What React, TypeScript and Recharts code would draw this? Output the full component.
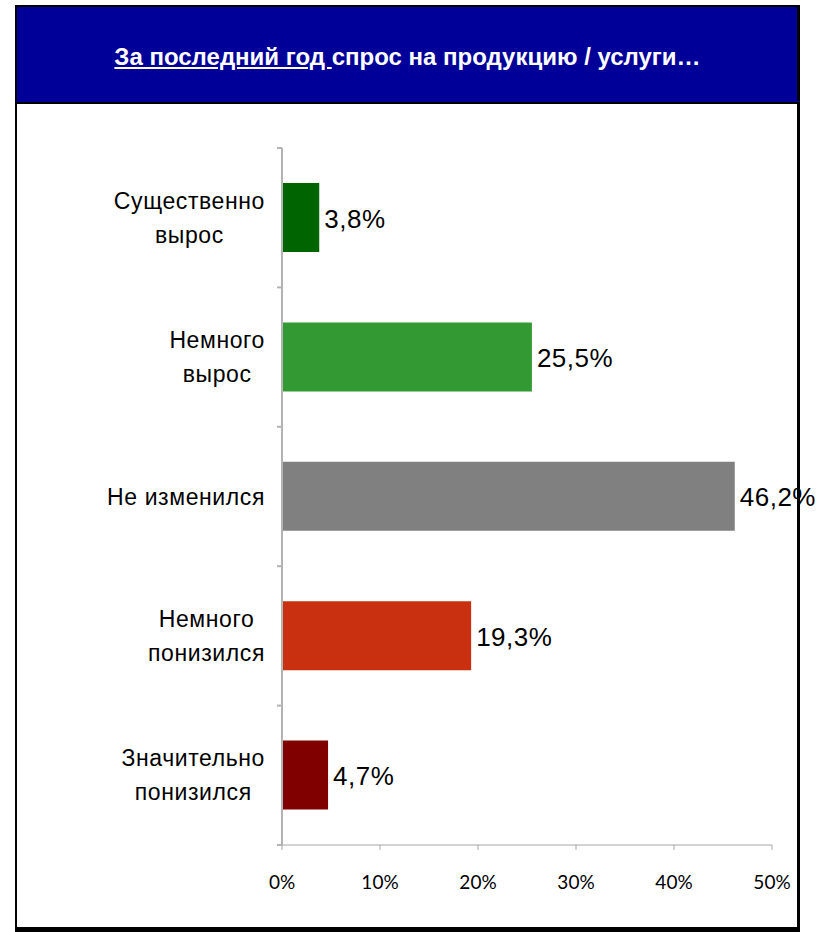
import React from "react";
import { BarChart, Bar, XAxis, YAxis, Cell, LabelList } from "recharts";

const categories = [
  "Существенно\nвырос",
  "Немного\nвырос",
  "Не изменился",
  "Немного\nпонизился",
  "Значительно\nпонизился",
];
const values = [3.8, 25.5, 46.2, 19.3, 4.7];
const barColors = ["#006400", "#339933", "#808080", "#C8300F", "#800000"];
const xTicks = [0, 10, 20, 30, 40, 50];

const data = categories.map((name, i) => ({ name, value: values[i] }));

const labelFont = "23px 'Liberation Sans'";
const labelSpacing = 0.6;
let ctx: CanvasRenderingContext2D | null = null;
const measure = (s: string) => {
  if (!ctx) ctx = document.createElement("canvas").getContext("2d");
  if (!ctx) return s.length * 12;
  ctx.font = labelFont;
  return ctx.measureText(s).width + s.length * labelSpacing;
};

const CategoryTick = (props: any) => {
  const { x, y, payload, index } = props;
  const lines = String(payload.value).split("\n");
  const lh = 34;
  const start = y - ((lines.length - 1) * lh) / 2;
  const blockW = Math.max(...lines.map(measure));
  const cx = x - 17 - blockW / 2;
  const half = payload.offset || 0;
  return (
    <g>
      <line x1={x - 5} x2={x} y1={y - half} y2={y - half} stroke="#b3b3b3" strokeWidth={2} />
      {index === categories.length - 1 && (
        <line x1={x - 5} x2={x} y1={y + half} y2={y + half} stroke="#b3b3b3" strokeWidth={2} />
      )}
      <text
        textAnchor="middle"
        fontFamily="'Liberation Sans', Arial, sans-serif"
        fontSize={23}
        letterSpacing={labelSpacing}
        fill="#000"
      >
        {lines.map((l, i) => (
          <tspan key={i} x={cx} y={start + i * lh} dominantBaseline="central">
            {l}
          </tspan>
        ))}
      </text>
    </g>
  );
};

const ValueLabel = (props: any) => {
  const { x, y, width, height, value } = props;
  return (
    <text
      x={x + width + 5}
      y={y + height / 2 + 1}
      dominantBaseline="central"
      fontFamily="'Liberation Sans', Arial, sans-serif"
      fontSize={26}
      letterSpacing={0.5}
      fill="#000"
    >
      {String(value).replace(".", ",") + "%"}
    </text>
  );
};

export default function App() {
  return (
    <div
      style={{
        position: "absolute",
        left: 0,
        top: 0,
        width: 825,
        height: 932,
        background: "#fff",
        overflow: "hidden",
      }}
    >
      {/* header */}
      <div
        style={{
          position: "absolute",
          left: 15,
          top: 5,
          width: 785,
          height: 99,
          boxSizing: "border-box",
          background: "#000099",
          borderTop: "2px solid #000",
          borderLeft: "2px solid #000",
          borderRight: "3px solid #000",
          borderBottom: "2px solid #000",
        }}
      />
      <div
        style={{
          position: "absolute",
          left: 15,
          top: 101,
          width: 785,
          height: 1,
          background: "#000099",
        }}
      />
      <div
        style={{
          position: "absolute",
          left: 15,
          top: 44,
          width: 785,
          textAlign: "center",
          color: "#fff",
          fontFamily: "'Liberation Sans', Arial, sans-serif",
          fontWeight: "bold",
          fontSize: 24,
          lineHeight: "26px",
        }}
      >
        <span style={{ textDecoration: "underline" }}>За последний год </span>
        спрос на продукцию / услуги…
      </div>
      {/* body frame */}
      <div
        style={{
          position: "absolute",
          left: 15,
          top: 103,
          width: 785,
          height: 829,
          boxSizing: "border-box",
          borderLeft: "2px solid #000",
          borderRight: "3px solid #000",
          borderBottom: "5px solid #000",
        }}
      />
      <div style={{ position: "absolute", left: 0, top: 0 }}>
        <BarChart
          width={825}
          height={932}
          data={data}
          layout="vertical"
          margin={{ top: 148, right: 53, bottom: 47, left: 82 }}
        >
          <YAxis
            type="category"
            dataKey="name"
            width={200}
            axisLine={{ stroke: "#b3b3b3", strokeWidth: 2 }}
            tickLine={false}
            tickSize={0}
            tickMargin={0}
            interval={0}
            tick={<CategoryTick />}
          />
          <XAxis
            type="number"
            domain={[0, 50]}
            ticks={xTicks}
            tickFormatter={(v: number) => `${v}%`}
            stroke="#a6a6a6"
            tickSize={5}
            tickMargin={26}
            height={40}
            tick={{ fill: "#000", fontSize: 19, fontFamily: "Lato, 'Open Sans', sans-serif" }}
          />
          <Bar dataKey="value" barSize={69} isAnimationActive={false}>
            {data.map((d, i) => (
              <Cell key={d.name} fill={barColors[i]} />
            ))}
            <LabelList dataKey="value" content={<ValueLabel />} />
          </Bar>
        </BarChart>
      </div>
    </div>
  );
}
